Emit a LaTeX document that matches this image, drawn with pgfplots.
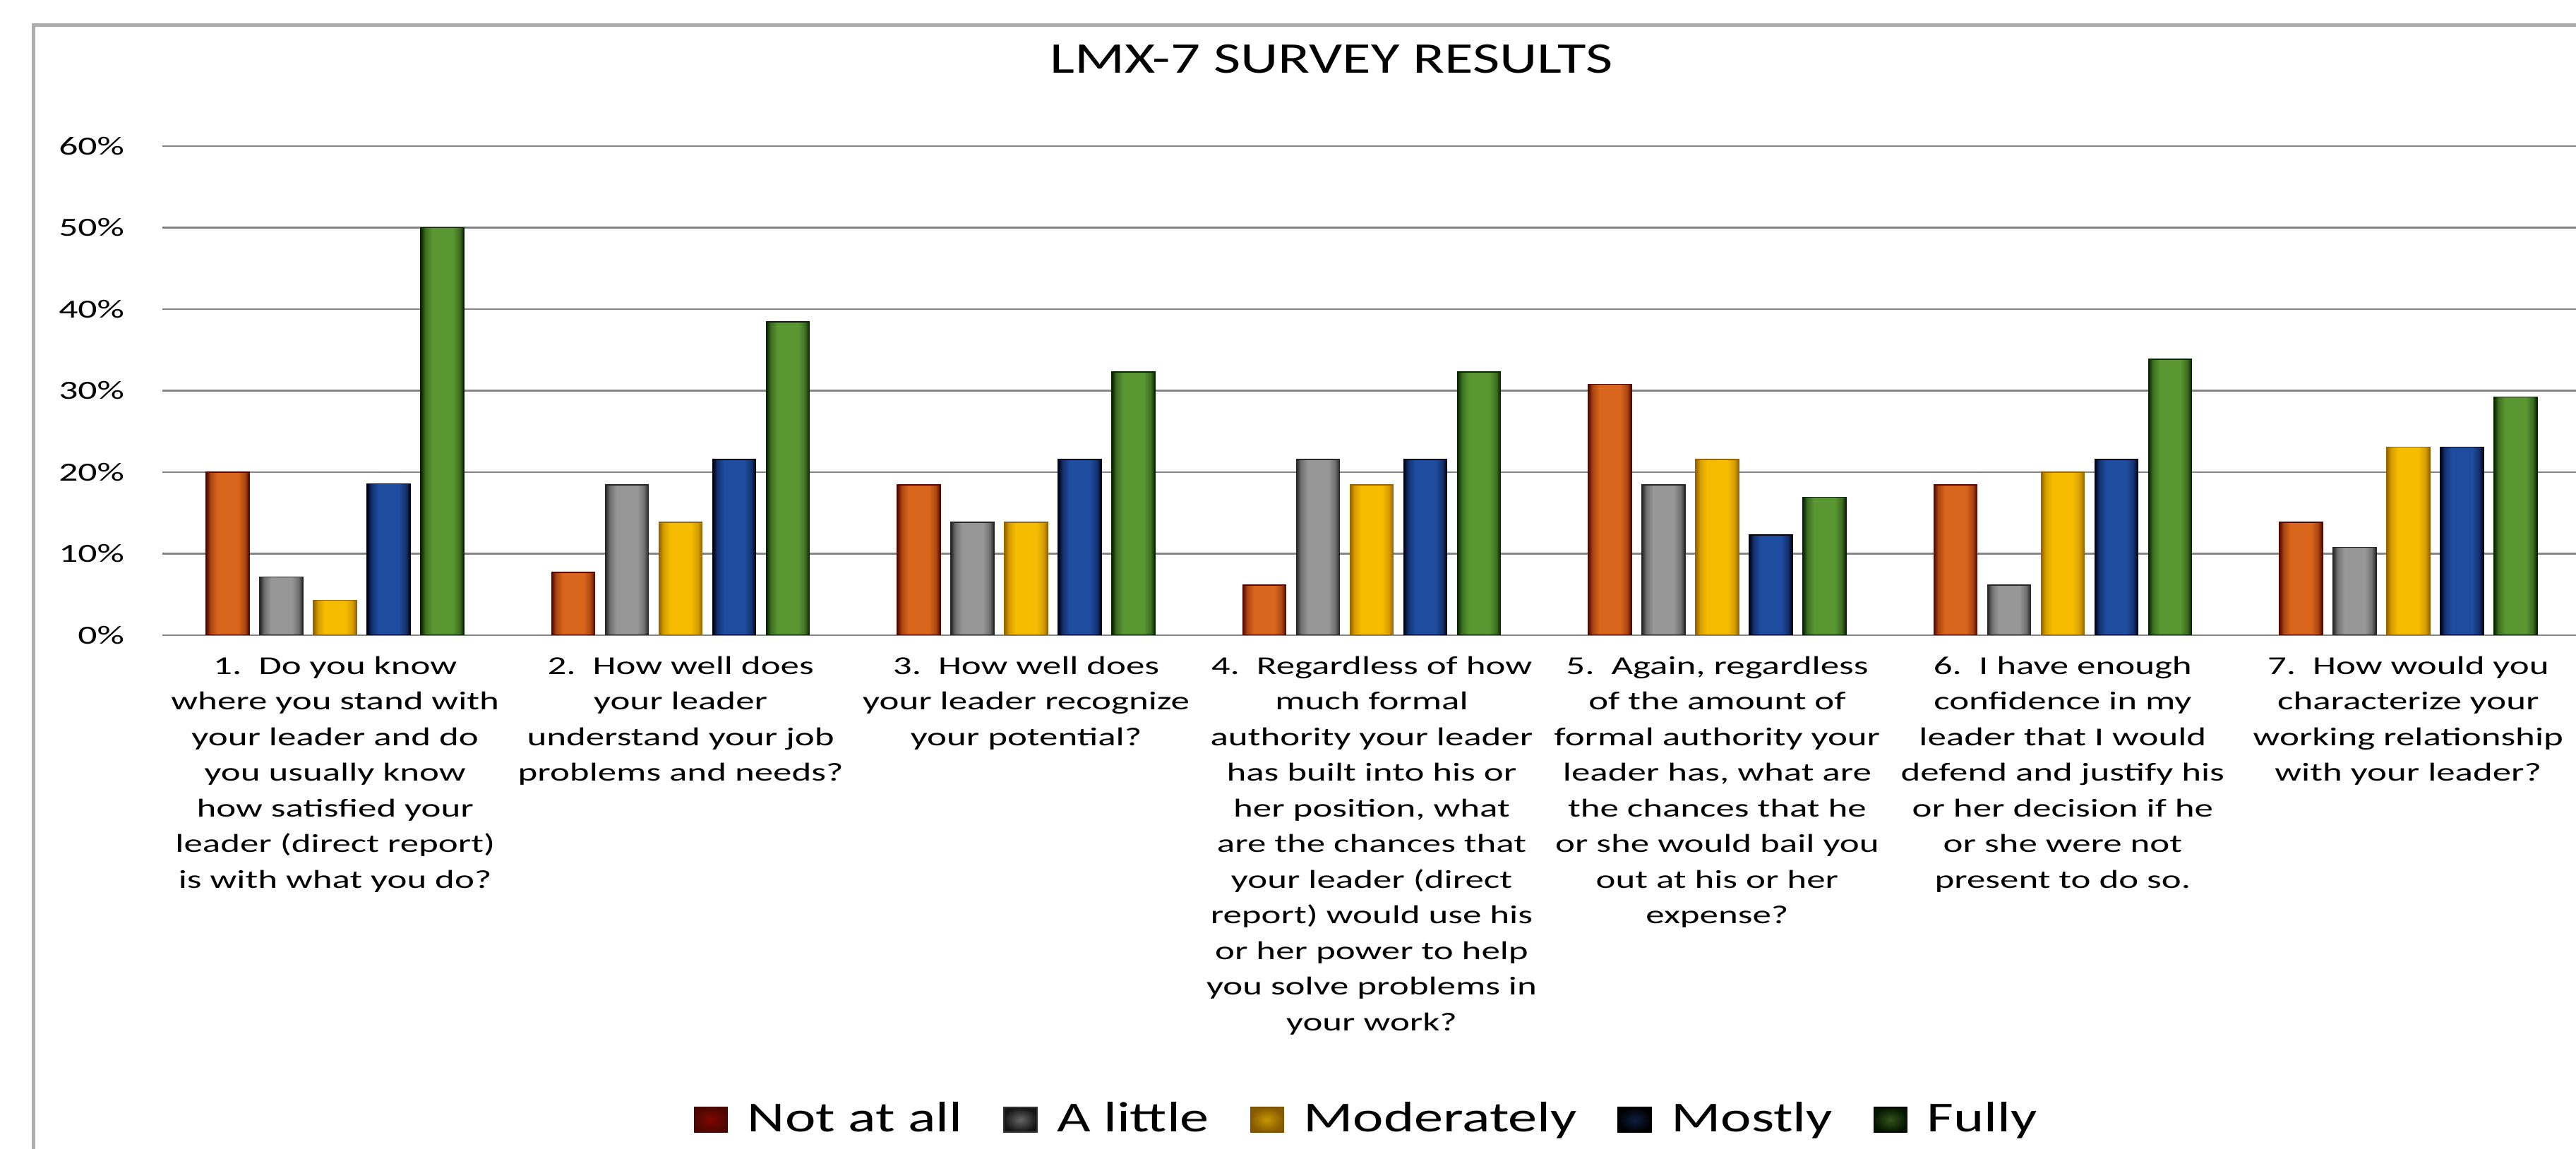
\documentclass[border=0pt]{standalone}
\usepackage{fontspec}
\usepackage{pgfplots}
\pgfplotsset{compat=1.18}
\newfontfamily\labelfont[FakeStretch=1.45]{Carlito}
\newfontfamily\titlefont[FakeStretch=1.34]{Carlito}
\newfontfamily\legendfont[FakeStretch=1.36]{Carlito}

\definecolor{naE}{HTML}{560800}\definecolor{naC}{HTML}{D9661C}
\definecolor{alE}{HTML}{262626}\definecolor{alC}{HTML}{979797}
\definecolor{moE}{HTML}{966400}\definecolor{moC}{HTML}{F6BC00}
\definecolor{mtE}{HTML}{000014}\definecolor{mtC}{HTML}{1E4C9E}
\definecolor{fuE}{HTML}{082400}\definecolor{fuC}{HTML}{5A9632}

\pgfdeclarehorizontalshading{shNA}{100bp}{color(0bp)=(naE); color(25bp)=(naE); color(30bp)=(naC!65!naE); color(38bp)=(naC); color(62bp)=(naC); color(70bp)=(naC!65!naE); color(75bp)=(naE); color(100bp)=(naE)}
\pgfdeclarehorizontalshading{shAL}{100bp}{color(0bp)=(alE); color(25bp)=(alE); color(30bp)=(alC!65!alE); color(38bp)=(alC); color(62bp)=(alC); color(70bp)=(alC!65!alE); color(75bp)=(alE); color(100bp)=(alE)}
\pgfdeclarehorizontalshading{shMO}{100bp}{color(0bp)=(moE); color(25bp)=(moE); color(30bp)=(moC!65!moE); color(38bp)=(moC); color(62bp)=(moC); color(70bp)=(moC!65!moE); color(75bp)=(moE); color(100bp)=(moE)}
\pgfdeclarehorizontalshading{shMT}{100bp}{color(0bp)=(mtE); color(25bp)=(mtE); color(30bp)=(mtC!65!mtE); color(38bp)=(mtC); color(62bp)=(mtC); color(70bp)=(mtC!65!mtE); color(75bp)=(mtE); color(100bp)=(mtE)}
\pgfdeclarehorizontalshading{shFU}{100bp}{color(0bp)=(fuE); color(25bp)=(fuE); color(30bp)=(fuC!65!fuE); color(38bp)=(fuC); color(62bp)=(fuC); color(70bp)=(fuC!65!fuE); color(75bp)=(fuE); color(100bp)=(fuE)}

% one bar: shift, shading, edge colour, x, value
\newcommand{\onebar}[5]{\addplot[ybar, bar width=12.2pt, bar shift=#1, shade, shading=#2, draw=#3, line width=0.3pt, forget plot] coordinates {(#4,#5)};}

\begin{document}
\begin{tikzpicture}
\useasboundingbox (0,0) rectangle (729.8pt,325.6pt);
\fill[white] (0,0) rectangle (729.8pt,325.6pt);
\draw[color=black!32, line width=1pt] (9.4pt,-3pt) -- (9.4pt,318.4pt) -- (740pt,318.4pt);
\begin{axis}[
  at={(46pt,145.6pt)}, anchor=south west,
  scale only axis, width=685.2pt, height=138.6pt,
  xmin=-0.5, xmax=6.5, ymin=0, ymax=60,
  axis line style={draw=none}, tick style={draw=none},
  ymajorgrids, grid style={color=black!48, line width=0.55pt},
  ytick={0,10,20,30,40,50,60},
  yticklabels={0\%,10\%,20\%,30\%,40\%,50\%,60\%},
  yticklabel style={font=\labelfont\fontsize{7.4pt}{9pt}\selectfont, inner sep=0pt, anchor=east, xshift=-10.6pt},
  xtick={0,1,2,3,4,5,6},
  xticklabels={
    {1.\ \ Do you know\\where you stand with\\your leader and do\\you usually know\\how satisfied your\\leader (direct report)\\is with what you do?},
    {2.\ \ How well does\\your leader\\understand your job\\problems and needs?},
    {3.\ \ How well does\\your leader recognize\\your potential?},
    {4.\ \ Regardless of how\\much formal\\authority your leader\\has built into his or\\her position, what\\are the chances that\\your leader (direct\\report) would use his\\or her power to help\\you solve problems in\\your work?},
    {5.\ \ Again, regardless\\of the amount of\\formal authority your\\leader has, what are\\the chances that he\\or she would bail you\\out at his or her\\expense?},
    {6.\ \ I have enough\\confidence in my\\leader that I would\\defend and justify his\\or her decision if he\\or she were not\\present to do so.},
    {7.\ \ How would you\\characterize your\\working relationship\\with your leader?}},
  xticklabel style={font=\labelfont\fontsize{7.3pt}{10.1pt}\selectfont, align=center, anchor=north, inner sep=0pt, yshift=-5.8pt},
  title={LMX-7 SURVEY RESULTS},
  title style={font=\titlefont\fontsize{12.4pt}{14pt}\selectfont, at={(axis description cs:0.4834,1.1068)}, anchor=base, inner sep=0pt},
  legend columns=-1, legend cell align=left,
  legend style={draw=none, fill=none, at={(axis description cs:0.4978,-0.991)}, anchor=center,
    font=\legendfont\fontsize{12.1pt}{14pt}\selectfont,
    /tikz/every odd column/.append style={column sep=5.0pt},
    /tikz/every even column/.append style={column sep=11.0pt},
    nodes={inner sep=0.5pt}},
]
% Not at all
\onebar{-30.4pt}{shNA}{naE}{0}{20}
\onebar{-30.4pt}{shNA}{naE}{1}{7.69}
\onebar{-30.4pt}{shNA}{naE}{2}{18.46}
\onebar{-30.4pt}{shNA}{naE}{3}{6.15}
\onebar{-30.4pt}{shNA}{naE}{4}{30.77}
\onebar{-30.4pt}{shNA}{naE}{5}{18.46}
\onebar{-30.4pt}{shNA}{naE}{6}{13.85}
% A little
\onebar{-15.2pt}{shAL}{alE}{0}{7.14}
\onebar{-15.2pt}{shAL}{alE}{1}{18.46}
\onebar{-15.2pt}{shAL}{alE}{2}{13.85}
\onebar{-15.2pt}{shAL}{alE}{3}{21.54}
\onebar{-15.2pt}{shAL}{alE}{4}{18.46}
\onebar{-15.2pt}{shAL}{alE}{5}{6.15}
\onebar{-15.2pt}{shAL}{alE}{6}{10.77}
% Moderately
\onebar{0pt}{shMO}{moE}{0}{4.29}
\onebar{0pt}{shMO}{moE}{1}{13.85}
\onebar{0pt}{shMO}{moE}{2}{13.85}
\onebar{0pt}{shMO}{moE}{3}{18.46}
\onebar{0pt}{shMO}{moE}{4}{21.54}
\onebar{0pt}{shMO}{moE}{5}{20}
\onebar{0pt}{shMO}{moE}{6}{23.08}
% Mostly
\onebar{15.2pt}{shMT}{mtE}{0}{18.57}
\onebar{15.2pt}{shMT}{mtE}{1}{21.54}
\onebar{15.2pt}{shMT}{mtE}{2}{21.54}
\onebar{15.2pt}{shMT}{mtE}{3}{21.54}
\onebar{15.2pt}{shMT}{mtE}{4}{12.31}
\onebar{15.2pt}{shMT}{mtE}{5}{21.54}
\onebar{15.2pt}{shMT}{mtE}{6}{23.08}
% Fully
\onebar{30.4pt}{shFU}{fuE}{0}{50}
\onebar{30.4pt}{shFU}{fuE}{1}{38.46}
\onebar{30.4pt}{shFU}{fuE}{2}{32.31}
\onebar{30.4pt}{shFU}{fuE}{3}{32.31}
\onebar{30.4pt}{shFU}{fuE}{4}{16.92}
\onebar{30.4pt}{shFU}{fuE}{5}{33.85}
\onebar{30.4pt}{shFU}{fuE}{6}{29.23}
% legend
\addlegendimage{legend image code/.code={\draw[line width=0.3pt, draw=naE!80!black, inner color=naE!75!red, outer color=naE!90!black] (0pt,-3.5pt) rectangle (9.4pt,3.5pt);}}
\addlegendentry{Not at all}
\addlegendimage{legend image code/.code={\draw[line width=0.3pt, draw=black!80, inner color=black!60, outer color=black!92] (0pt,-3.5pt) rectangle (9.4pt,3.5pt);}}
\addlegendentry{A little}
\addlegendimage{legend image code/.code={\draw[line width=0.3pt, draw=moE!80!black, inner color=moC!80!black, outer color=moE!90!black] (0pt,-3.5pt) rectangle (9.4pt,3.5pt);}}
\addlegendentry{Moderately}
\addlegendimage{legend image code/.code={\draw[line width=0.3pt, draw=black, inner color=mtC!40!black, outer color=black] (0pt,-3.5pt) rectangle (9.4pt,3.5pt);}}
\addlegendentry{Mostly}
\addlegendimage{legend image code/.code={\draw[line width=0.3pt, draw=black, inner color=fuC!55!black, outer color=fuE!60!black] (0pt,-3.5pt) rectangle (9.4pt,3.5pt);}}
\addlegendentry{Fully}
\end{axis}
\end{tikzpicture}
\end{document}
